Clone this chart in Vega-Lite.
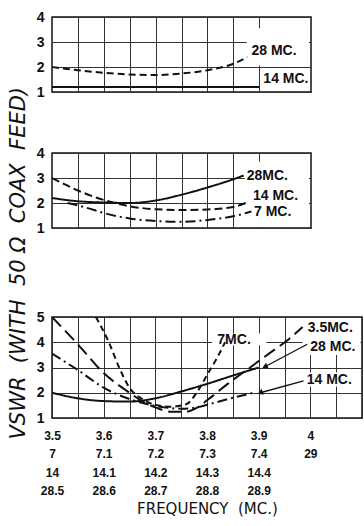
{
  "$schema": "https://vega.github.io/schema/vega-lite/v6.json",
  "background": "white",
  "padding": {"left": 8, "top": 9, "right": 0, "bottom": 0},
  "title": {"text": "VSWR\u00a0\u00a0(WITH\u00a0\u00a050\u00a0Ω\u00a0\u00a0COAX\u00a0\u00a0FEED)", "orient": "left", "anchor": "middle", "font": "DejaVu Sans", "fontStyle": "italic", "fontWeight": "normal", "fontSize": 21, "offset": 6, "color": "#111"},
  "config": {
    "view": {"stroke": "#111", "strokeWidth": 1.5},
    "axis": {"gridColor": "#333", "gridWidth": 1, "gridOpacity": 1, "domain": false, "ticks": false, "labelFont": "Liberation Sans", "labelFontWeight": "bold", "labelColor": "#111", "titleColor": "#111"},
    "text": {"font": "Liberation Sans", "fontWeight": "bold", "fontSize": 14, "color": "#111"}
  },
  "datasets": {
    "curves": [
      {"panel": "top", "series": "28 MC", "x": 3.5, "y": 2.0},
      {"panel": "top", "series": "28 MC", "x": 3.55, "y": 1.87},
      {"panel": "top", "series": "28 MC", "x": 3.6, "y": 1.77},
      {"panel": "top", "series": "28 MC", "x": 3.65, "y": 1.7},
      {"panel": "top", "series": "28 MC", "x": 3.7, "y": 1.68},
      {"panel": "top", "series": "28 MC", "x": 3.75, "y": 1.74},
      {"panel": "top", "series": "28 MC", "x": 3.8, "y": 1.87},
      {"panel": "top", "series": "28 MC", "x": 3.85, "y": 2.13},
      {"panel": "top", "series": "28 MC", "x": 3.877, "y": 2.4},
      {"panel": "top", "series": "14 MC", "x": 3.5, "y": 1.2},
      {"panel": "top", "series": "14 MC", "x": 3.7, "y": 1.2},
      {"panel": "top", "series": "14 MC", "x": 3.9, "y": 1.2},
      {"panel": "mid", "series": "28 MC", "x": 3.5, "y": 2.2},
      {"panel": "mid", "series": "28 MC", "x": 3.55, "y": 2.07},
      {"panel": "mid", "series": "28 MC", "x": 3.6, "y": 2.02},
      {"panel": "mid", "series": "28 MC", "x": 3.65, "y": 2.0},
      {"panel": "mid", "series": "28 MC", "x": 3.7, "y": 2.1},
      {"panel": "mid", "series": "28 MC", "x": 3.75, "y": 2.33},
      {"panel": "mid", "series": "28 MC", "x": 3.8, "y": 2.62},
      {"panel": "mid", "series": "28 MC", "x": 3.85, "y": 2.95},
      {"panel": "mid", "series": "28 MC", "x": 3.87, "y": 3.1},
      {"panel": "mid", "series": "14 MC", "x": 3.5, "y": 3.0},
      {"panel": "mid", "series": "14 MC", "x": 3.55, "y": 2.5},
      {"panel": "mid", "series": "14 MC", "x": 3.6, "y": 2.12},
      {"panel": "mid", "series": "14 MC", "x": 3.65, "y": 1.87},
      {"panel": "mid", "series": "14 MC", "x": 3.7, "y": 1.75},
      {"panel": "mid", "series": "14 MC", "x": 3.75, "y": 1.72},
      {"panel": "mid", "series": "14 MC", "x": 3.8, "y": 1.74},
      {"panel": "mid", "series": "14 MC", "x": 3.85, "y": 1.84},
      {"panel": "mid", "series": "14 MC", "x": 3.88, "y": 2.05},
      {"panel": "mid", "series": "7 MC", "x": 3.53, "y": 2.0},
      {"panel": "mid", "series": "7 MC", "x": 3.56, "y": 1.85},
      {"panel": "mid", "series": "7 MC", "x": 3.6, "y": 1.6},
      {"panel": "mid", "series": "7 MC", "x": 3.65, "y": 1.38},
      {"panel": "mid", "series": "7 MC", "x": 3.7, "y": 1.28},
      {"panel": "mid", "series": "7 MC", "x": 3.75, "y": 1.25},
      {"panel": "mid", "series": "7 MC", "x": 3.8, "y": 1.32},
      {"panel": "mid", "series": "7 MC", "x": 3.85, "y": 1.47},
      {"panel": "mid", "series": "7 MC", "x": 3.885, "y": 1.66},
      {"panel": "bot", "series": "3.5 MC", "x": 3.5, "y": 5.0},
      {"panel": "bot", "series": "3.5 MC", "x": 3.55, "y": 3.92},
      {"panel": "bot", "series": "3.5 MC", "x": 3.6, "y": 2.78},
      {"panel": "bot", "series": "3.5 MC", "x": 3.65, "y": 2.0},
      {"panel": "bot", "series": "3.5 MC", "x": 3.68, "y": 1.6},
      {"panel": "bot", "series": "3.5 MC", "x": 3.7, "y": 1.42},
      {"panel": "bot", "series": "3.5 MC", "x": 3.73, "y": 1.25},
      {"panel": "bot", "series": "3.5 MC", "x": 3.76, "y": 1.25},
      {"panel": "bot", "series": "3.5 MC", "x": 3.78, "y": 1.4},
      {"panel": "bot", "series": "3.5 MC", "x": 3.8, "y": 1.7},
      {"panel": "bot", "series": "3.5 MC", "x": 3.84, "y": 2.35},
      {"panel": "bot", "series": "3.5 MC", "x": 3.88, "y": 2.95},
      {"panel": "bot", "series": "3.5 MC", "x": 3.92, "y": 3.55},
      {"panel": "bot", "series": "3.5 MC", "x": 3.96, "y": 4.15},
      {"panel": "bot", "series": "3.5 MC", "x": 3.985, "y": 4.6},
      {"panel": "bot", "series": "28 MC", "x": 3.5, "y": 2.0},
      {"panel": "bot", "series": "28 MC", "x": 3.55, "y": 1.78},
      {"panel": "bot", "series": "28 MC", "x": 3.6, "y": 1.67},
      {"panel": "bot", "series": "28 MC", "x": 3.65, "y": 1.65},
      {"panel": "bot", "series": "28 MC", "x": 3.7, "y": 1.78},
      {"panel": "bot", "series": "28 MC", "x": 3.75, "y": 2.05},
      {"panel": "bot", "series": "28 MC", "x": 3.8, "y": 2.35},
      {"panel": "bot", "series": "28 MC", "x": 3.85, "y": 2.68},
      {"panel": "bot", "series": "28 MC", "x": 3.9, "y": 3.0},
      {"panel": "bot", "series": "14 MC", "x": 3.5, "y": 3.55},
      {"panel": "bot", "series": "14 MC", "x": 3.55, "y": 2.9},
      {"panel": "bot", "series": "14 MC", "x": 3.6, "y": 2.2},
      {"panel": "bot", "series": "14 MC", "x": 3.65, "y": 1.75},
      {"panel": "bot", "series": "14 MC", "x": 3.7, "y": 1.48},
      {"panel": "bot", "series": "14 MC", "x": 3.75, "y": 1.37},
      {"panel": "bot", "series": "14 MC", "x": 3.78, "y": 1.42},
      {"panel": "bot", "series": "14 MC", "x": 3.81, "y": 1.58},
      {"panel": "bot", "series": "14 MC", "x": 3.85, "y": 1.8},
      {"panel": "bot", "series": "14 MC", "x": 3.89, "y": 2.0},
      {"panel": "bot", "series": "7 MC", "x": 3.585, "y": 5.0},
      {"panel": "bot", "series": "7 MC", "x": 3.61, "y": 4.0},
      {"panel": "bot", "series": "7 MC", "x": 3.63, "y": 3.0},
      {"panel": "bot", "series": "7 MC", "x": 3.65, "y": 2.2},
      {"panel": "bot", "series": "7 MC", "x": 3.675, "y": 1.75},
      {"panel": "bot", "series": "7 MC", "x": 3.7, "y": 1.52},
      {"panel": "bot", "series": "7 MC", "x": 3.73, "y": 1.45},
      {"panel": "bot", "series": "7 MC", "x": 3.76, "y": 1.55},
      {"panel": "bot", "series": "7 MC", "x": 3.78, "y": 2.0},
      {"panel": "bot", "series": "7 MC", "x": 3.8, "y": 2.7},
      {"panel": "bot", "series": "7 MC", "x": 3.82, "y": 3.4},
      {"panel": "bot", "series": "7 MC", "x": 3.835, "y": 4.0}
    ],
    "labels": [
      {"panel": "top", "text": "28 MC.", "x": 3.885, "y": 2.65},
      {"panel": "top", "text": "14 MC.", "x": 3.908, "y": 1.52},
      {"panel": "mid", "text": "28MC.", "x": 3.876, "y": 3.1},
      {"panel": "mid", "text": "14 MC.", "x": 3.888, "y": 2.3},
      {"panel": "mid", "text": "7 MC.", "x": 3.89, "y": 1.64},
      {"panel": "bot", "text": "3.5MC.", "x": 3.995, "y": 4.58},
      {"panel": "bot", "text": "28 MC.", "x": 4.0, "y": 3.8},
      {"panel": "bot", "text": "14 MC.", "x": 3.993, "y": 2.5},
      {"panel": "bot", "text": "7MC.", "x": 3.82, "y": 4.1}
    ],
    "masks": [
      {"panel": "top", "x": 3.876, "x2": 3.996, "y": 2.06, "y2": 3.55},
      {"panel": "mid", "x": 3.872, "x2": 3.996, "y": 1.04, "y2": 3.65},
      {"panel": "bot", "x": 3.985, "x2": 4.097, "y": 3.5, "y2": 4.96},
      {"panel": "bot", "x": 3.985, "x2": 4.097, "y": 2.25, "y2": 2.8},
      {"panel": "bot", "x": 3.81, "x2": 3.915, "y": 3.88, "y2": 4.35}
    ],
    "leaders": [
      {"id": "28", "end": "label", "x": 3.994, "y": 3.92},
      {"id": "28", "end": "tip", "x": 3.912, "y": 3.03},
      {"id": "14", "end": "label", "x": 3.987, "y": 2.47},
      {"id": "14", "end": "tip", "x": 3.903, "y": 2.0}
    ]
  },
  "bounds": "flush",
  "spacing": 0,
  "resolve": {"scale": {"x": "independent", "y": "independent", "strokeDash": "independent"}},
  "vconcat": [
    {
      "width": 259,
      "height": 75,
      "encoding": {
        "x": {"field": "x", "type": "quantitative", "scale": {"domain": [3.5, 4.0], "nice": false, "zero": false},
              "axis": {"grid": true, "values": [3.55, 3.6, 3.65, 3.7, 3.75, 3.8, 3.85, 3.9], "labels": false, "title": null}},
        "y": {"field": "y", "type": "quantitative", "scale": {"domain": [1, 4], "nice": false, "zero": false},
              "axis": {"grid": true, "values": [1, 2, 3, 4], "labelFontSize": 14, "labelPadding": 8, "title": null}}
      },
      "layer": [
        {"data": {"name": "masks"}, "transform": [{"filter": "datum.panel == 'top'"}],
         "mark": {"type": "rect", "fill": "white", "stroke": null},
         "encoding": {"x2": {"field": "x2"}, "y2": {"field": "y2"}}},
        {"data": {"name": "curves"}, "transform": [{"filter": "datum.panel == 'top'"}],
         "mark": {"type": "line", "interpolate": "monotone", "strokeWidth": 2, "color": "#111"},
         "encoding": {"strokeDash": {"field": "series", "type": "nominal", "scale": {"domain": ["28 MC", "14 MC"], "range": [[7, 4], [1, 0]]}, "legend": null}}},
        {"data": {"name": "labels"}, "transform": [{"filter": "datum.panel == 'top'"}],
         "mark": {"type": "text", "align": "left", "baseline": "middle"},
         "encoding": {"text": {"field": "text"}}}
      ]
    },
    {
      "width": 259,
      "height": 61,
      "view": {"stroke": null},
      "data": {"values": [{"gap": 1}]},
      "mark": {"type": "point", "opacity": 0},
      "encoding": {}
    },
    {
      "width": 259,
      "height": 75,
      "encoding": {
        "x": {"field": "x", "type": "quantitative", "scale": {"domain": [3.5, 4.0], "nice": false, "zero": false},
              "axis": {"grid": true, "values": [3.55, 3.6, 3.65, 3.7, 3.75, 3.8, 3.85, 3.9], "labels": false, "title": null}},
        "y": {"field": "y", "type": "quantitative", "scale": {"domain": [1, 4], "nice": false, "zero": false},
              "axis": {"grid": true, "values": [1, 2, 3, 4], "labelFontSize": 14, "labelPadding": 8, "title": null}}
      },
      "layer": [
        {"data": {"name": "masks"}, "transform": [{"filter": "datum.panel == 'mid'"}],
         "mark": {"type": "rect", "fill": "white", "stroke": null},
         "encoding": {"x2": {"field": "x2"}, "y2": {"field": "y2"}}},
        {"data": {"name": "curves"}, "transform": [{"filter": "datum.panel == 'mid'"}],
         "mark": {"type": "line", "interpolate": "monotone", "strokeWidth": 2, "color": "#111"},
         "encoding": {"strokeDash": {"field": "series", "type": "nominal", "scale": {"domain": ["28 MC", "14 MC", "7 MC"], "range": [[1, 0], [8, 4], [10, 4, 2, 4]]}, "legend": null}}},
        {"data": {"name": "labels"}, "transform": [{"filter": "datum.panel == 'mid'"}],
         "mark": {"type": "text", "align": "left", "baseline": "middle"},
         "encoding": {"text": {"field": "text"}}}
      ]
    },
    {
      "width": 259,
      "height": 89,
      "view": {"stroke": null},
      "data": {"values": [{"gap": 2}]},
      "mark": {"type": "point", "opacity": 0},
      "encoding": {}
    },
    {
      "width": 310,
      "height": 101,
      "encoding": {
        "x": {"field": "x", "type": "quantitative", "scale": {"domain": [3.5, 4.1], "nice": false, "zero": false},
              "axis": {"grid": true, "values": [3.5, 3.55, 3.6, 3.65, 3.7, 3.75, 3.8, 3.85, 3.9, 3.95, 4.0, 4.05, 4.1],
                       "labelExpr": "round(datum.value*20) % 2 == 1 ? '' : [['3.5','7','14','28.5'],['3.6','7.1','14.1','28.6'],['3.7','7.2','14.2','28.7'],['3.8','7.3','14.3','28.8'],['3.9','7.4','14.4','28.9'],['4','','','29'],['','','','']][round(datum.value*10)-35]",
                       "labelFontSize": 12, "labelLineHeight": 18.5, "labelBaseline": "top", "labelAlign": "center", "labelPadding": 12,
                       "labelFlush": false, "labelOverlap": false, "labelBound": false,
                       "title": "FREQUENCY\u00a0\u00a0(MC.)", "titleFont": "DejaVu Sans", "titleFontWeight": "normal", "titleFontSize": 15, "titlePadding": 5}},
        "y": {"field": "y", "type": "quantitative", "scale": {"domain": [1, 5], "nice": false, "zero": false},
              "axis": {"grid": true, "values": [1, 2, 3, 4, 5], "labelFontSize": 14, "labelPadding": 8, "title": null}}
      },
      "layer": [
        {"data": {"name": "masks"}, "transform": [{"filter": "datum.panel == 'bot'"}],
         "mark": {"type": "rect", "fill": "white", "stroke": null},
         "encoding": {"x2": {"field": "x2"}, "y2": {"field": "y2"}}},
        {"data": {"name": "curves"}, "transform": [{"filter": "datum.panel == 'bot'"}],
         "mark": {"type": "line", "interpolate": "monotone", "strokeWidth": 2, "color": "#111", "clip": true},
         "encoding": {"strokeDash": {"field": "series", "type": "nominal", "scale": {"domain": ["3.5 MC", "28 MC", "14 MC", "7 MC"], "range": [[13, 6], [1, 0], [10, 4, 2, 4], [6, 4]]}, "legend": null}}},
        {"data": {"name": "leaders"},
         "mark": {"type": "line", "strokeWidth": 1.3, "color": "#111"},
         "encoding": {"detail": {"field": "id"}}},
        {"data": {"name": "leaders"}, "transform": [{"filter": "datum.end == 'tip'"}],
         "mark": {"type": "point", "shape": "triangle-left", "filled": true, "size": 40, "angle": 335, "color": "#111", "opacity": 1}},
        {"data": {"name": "labels"}, "transform": [{"filter": "datum.panel == 'bot'"}],
         "mark": {"type": "text", "align": "left", "baseline": "middle"},
         "encoding": {"text": {"field": "text"}}}
      ]
    }
  ]
}
